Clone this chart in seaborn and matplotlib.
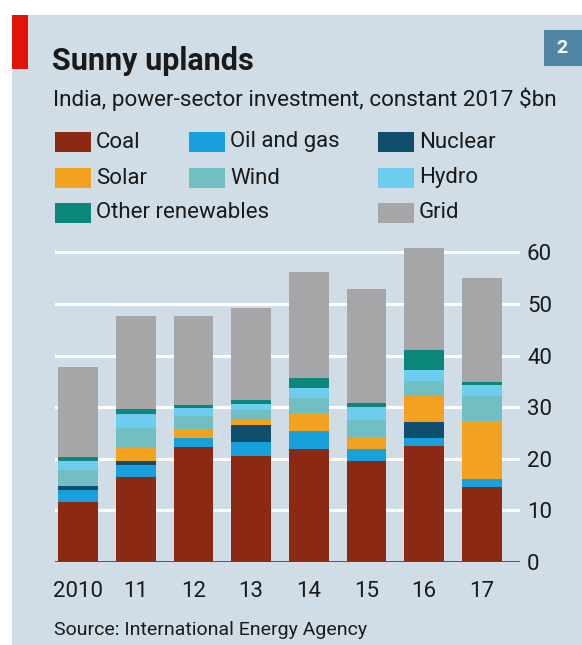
import numpy as np
import pandas as pd
import matplotlib
matplotlib.use("Agg")
import matplotlib.pyplot as plt
from matplotlib.patches import Rectangle
import seaborn as sns

# data, $bn
years = ['2010', '11', '12', '13', '14', '15', '16', '17']
coal = [11.7, 16.5, 22.2, 20.6, 21.9, 19.5, 22.4, 14.5]
oil_gas = [2.3, 2.3, 1.8, 2.7, 3.4, 2.4, 1.6, 1.6]
nuclear = [0.7, 0.7, 0.0, 3.3, 0.0, 0.0, 3.2, 0.0]
solar = [0.0, 2.5, 1.6, 0.9, 3.5, 2.1, 4.9, 11.2]
wind = [3.1, 3.9, 2.6, 2.0, 2.9, 3.5, 3.0, 4.8]
hydro = [1.7, 2.8, 1.6, 1.2, 2.0, 2.5, 2.1, 2.2]
other_ren = [0.8, 0.9, 0.6, 0.6, 1.9, 0.8, 3.9, 0.5]
grid = [17.5, 18.1, 17.3, 18.0, 20.5, 22.0, 19.7, 20.3]

series = ['Coal', 'Oil and gas', 'Nuclear', 'Solar', 'Wind', 'Hydro', 'Other renewables', 'Grid']
colors = ['#8b2913', '#17a0dc', '#0f4e6c', '#f3a21f', '#72bfc3', '#6ecdef', '#0b877c', '#a6a6a9']

df = pd.DataFrame({'year': years, 'Coal': coal, 'Oil and gas': oil_gas, 'Nuclear': nuclear,
                   'Solar': solar, 'Wind': wind, 'Hydro': hydro,
                   'Other renewables': other_ren, 'Grid': grid})
cum = df[series].cumsum(axis=1)
cum['year'] = df['year']

bg = '#d0dde7'
font = ['Roboto', 'DejaVu Sans']
plt.rcParams['font.family'] = font

fig = plt.figure(figsize=(5.82, 6.45), dpi=100)
fig.patch.set_facecolor('white')
W, H = 582, 645

def fx(px):
    return px / W

def fy(py):
    return 1 - py / H

# background panel + red tag + number box
fig.patches.append(Rectangle((fx(12), 0), 1, fy(15), transform=fig.transFigure,
                             facecolor=bg, edgecolor='none', zorder=-2))
fig.patches.append(Rectangle((fx(12), fy(69)), fx(16), 54 / H, transform=fig.transFigure,
                             facecolor='#e3120b', edgecolor='none', zorder=-1))
fig.patches.append(Rectangle((fx(544), fy(66)), fx(38), 36 / H, transform=fig.transFigure,
                             facecolor='#4f86a6', edgecolor='none', zorder=-1))
fig.text(fx(562), fy(48), '2', color='white', fontsize=14, fontweight='bold',
         ha='center', va='center')

fig.text(fx(52), fy(70), 'Sunny uplands', fontsize=22, fontweight='bold',
         color='#1a1a1a', va='baseline')
fig.text(fx(53), fy(106), 'India, power-sector investment, constant 2017 $bn',
         fontsize=16.2, color='#1a1a1a', va='baseline')

# legend (row-major like the original)
legend_pos = {
    'Coal': (55, 142), 'Oil and gas': (189, 142), 'Nuclear': (378, 142),
    'Solar': (55, 178), 'Wind': (189, 178), 'Hydro': (378, 178),
    'Other renewables': (55, 213), 'Grid': (378, 213),
}
for name, col in zip(series, colors):
    x0, yc = legend_pos[name]
    fig.patches.append(Rectangle((fx(x0), fy(yc + 10)), fx(36), 20 / H,
                                 transform=fig.transFigure, facecolor=col,
                                 edgecolor='none', zorder=-1))
    fig.text(fx(x0 + 41), fy(yc), name, fontsize=16, color='#1a1a1a', va='center')

# chart
ax = fig.add_axes([fx(55), fy(562), fx(465), (562 - 242) / H])
ax.set_facecolor('none')

# stacked bars: draw cumulative totals from top layer down
for name, col in zip(series[::-1], colors[::-1]):
    sns.barplot(data=cum, x='year', y=name, color=col, saturation=1, width=0.69,
                errorbar=None, edgecolor='none', linewidth=0, ax=ax, zorder=3)

ax.set_ylim(0, 62)
ax.set_xlim(-0.40, 7.66)
ax.set_yticks([0, 10, 20, 30, 40, 50, 60])
ax.yaxis.tick_right()
ax.grid(axis='y', color='white', linewidth=2.2, zorder=1)
ax.set_axisbelow(True)
ax.axhline(0, color='#4a4a4a', linewidth=1.3, zorder=5)
for s in ax.spines.values():
    s.set_visible(False)
ax.tick_params(axis='both', length=0, labelsize=16, labelcolor='#1a1a1a')
ax.tick_params(axis='y', pad=5)
ax.tick_params(axis='x', pad=14)
ax.set_xlabel('')
ax.set_ylabel('')

fig.text(fx(54), fy(635), 'Source: International Energy Agency', fontsize=14,
         color='#1a1a1a', va='baseline')

fig.savefig('out.png', dpi=100, facecolor=fig.get_facecolor())
